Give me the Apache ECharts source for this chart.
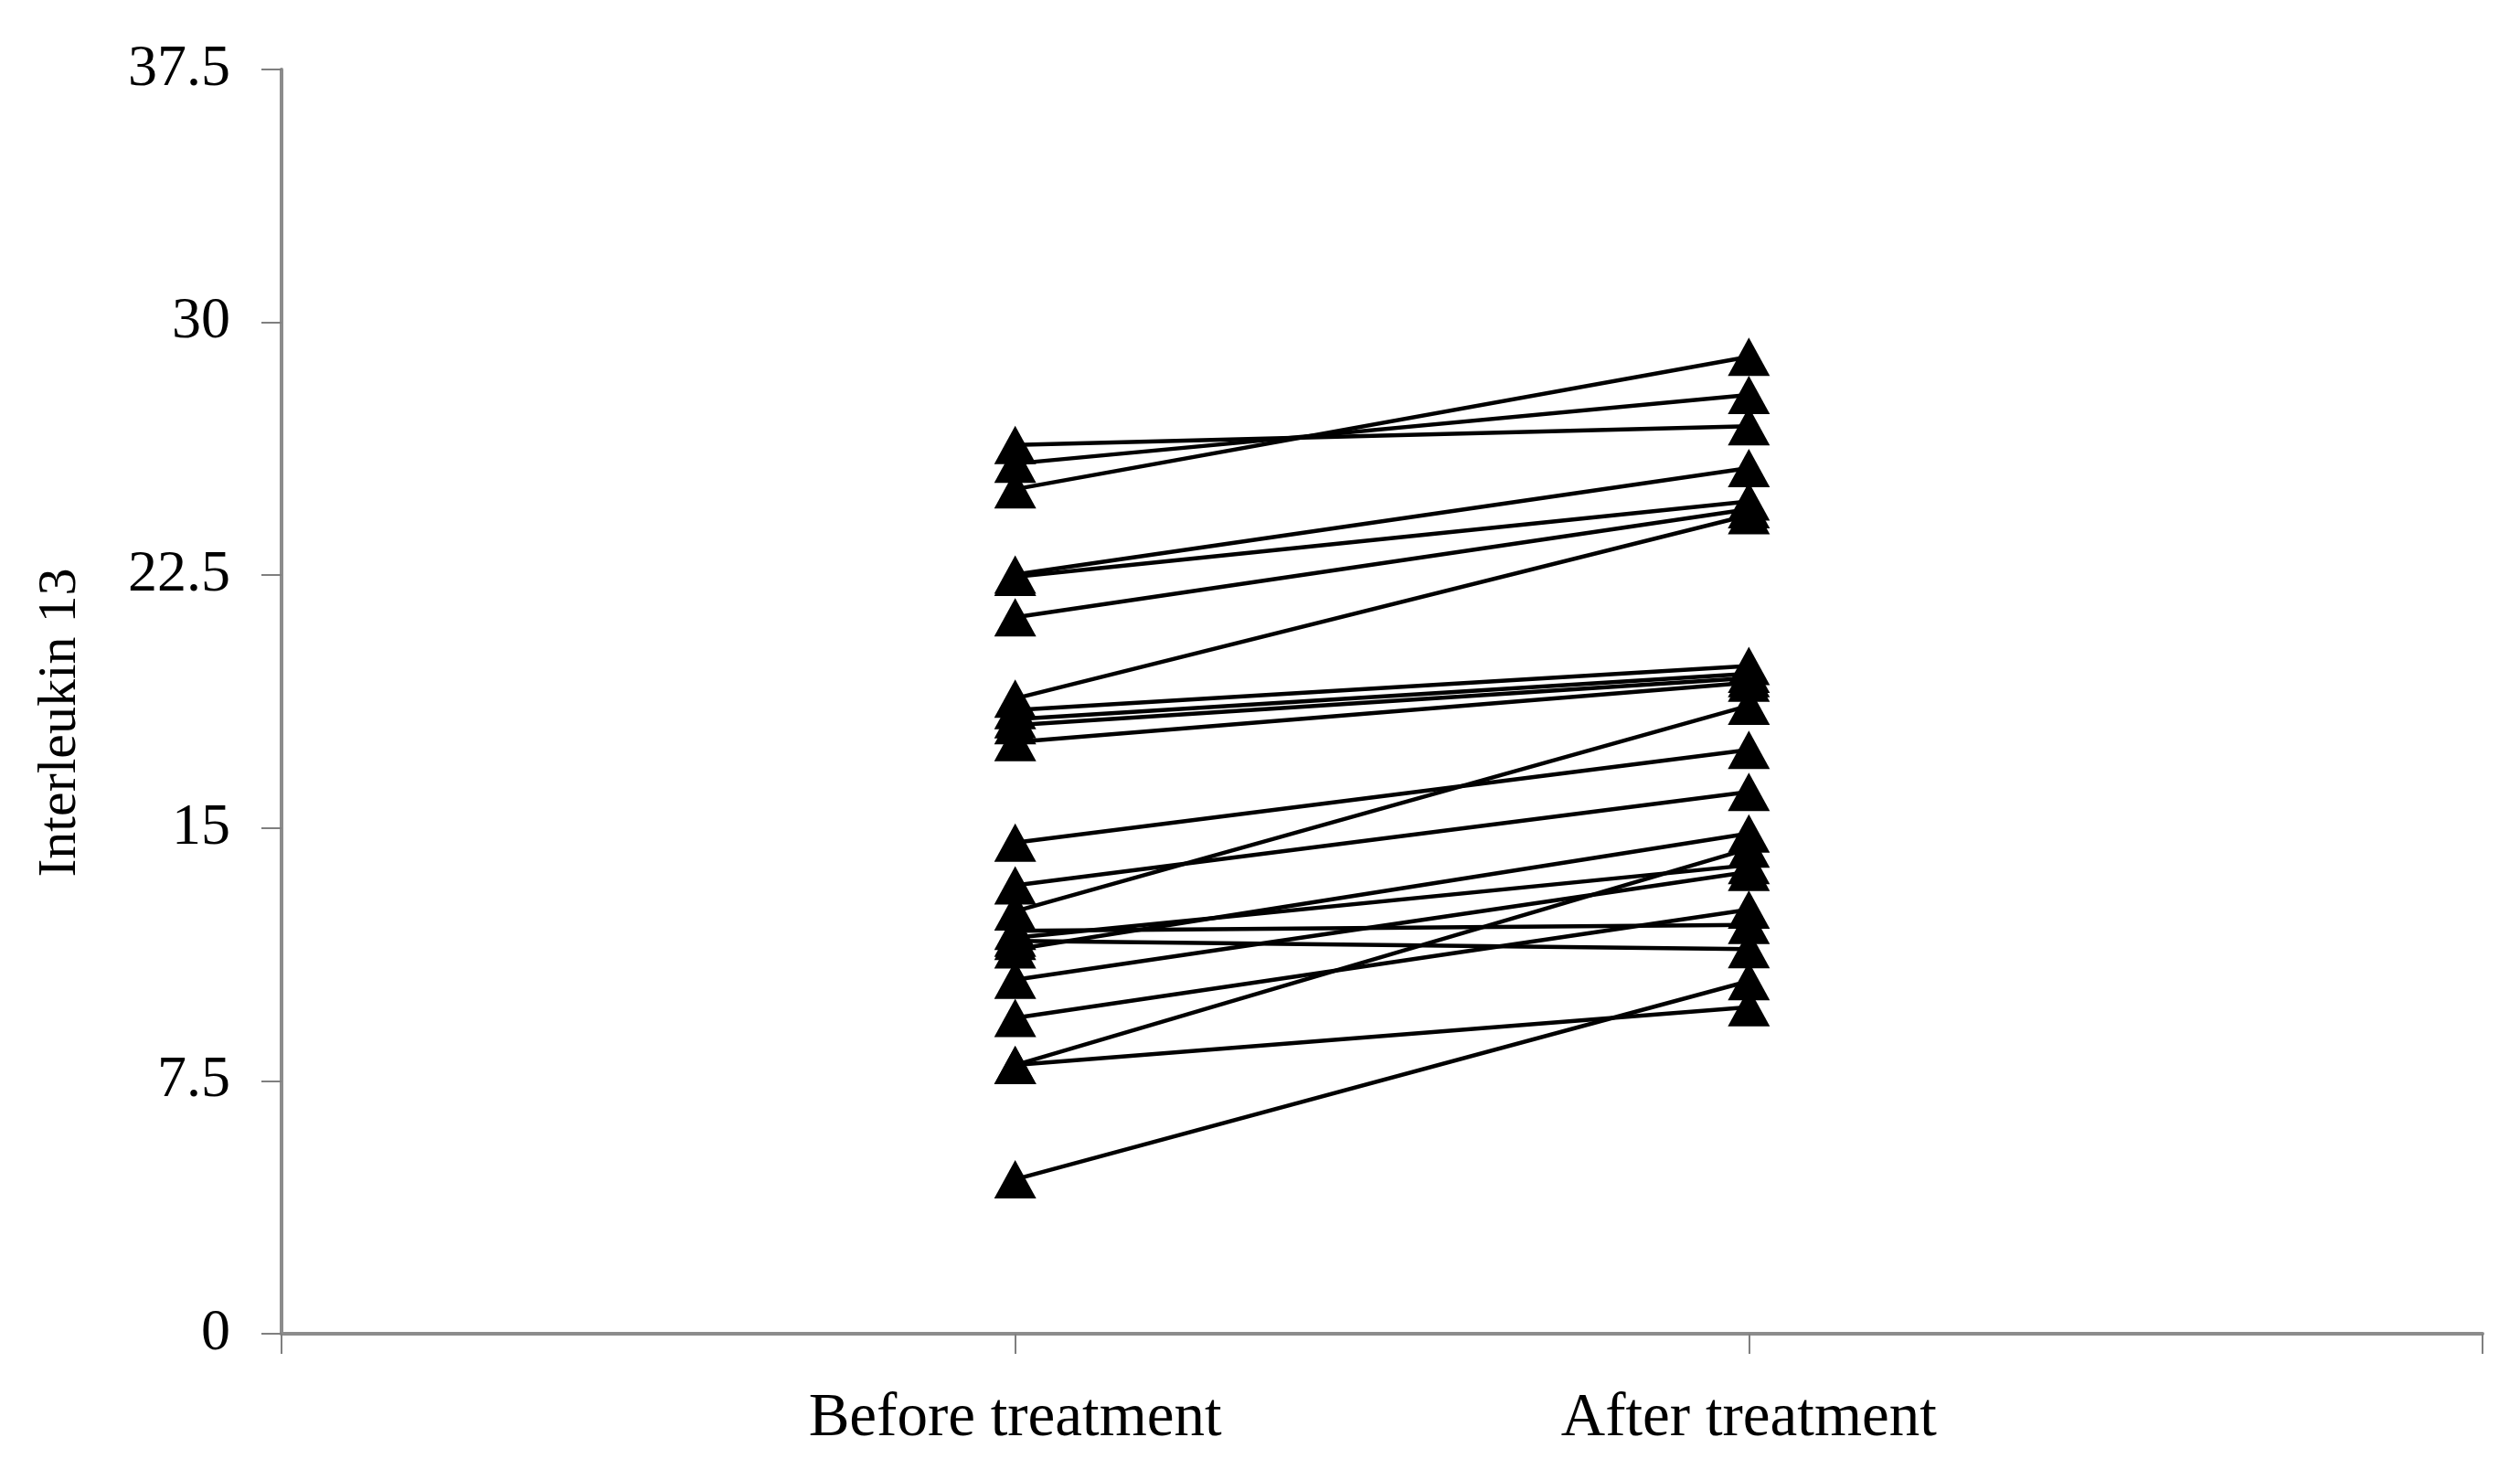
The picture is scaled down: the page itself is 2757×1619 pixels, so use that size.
<!DOCTYPE html>
<html>
<head>
<meta charset="utf-8">
<script src="https://cdn.jsdelivr.net/npm/echarts@6/dist/echarts.min.js"></script>
<style>
html,body{margin:0;padding:0;background:#fff;}
#chart{width:2757px;height:1619px;}
</style>
</head>
<body>
<div id="chart"></div>
<script>
// Categories on the x axis (outer blanks give the empty end ticks)
const categories = ['', 'Before treatment', 'After treatment', ''];
// Paired values per subject
const beforeValues = [26.36, 25.81, 25.05, 22.52, 22.45, 21.25, 18.84, 18.50, 18.23, 18.05, 17.55,
                      14.57, 13.30, 12.53, 11.95, 11.75, 11.65, 11.40, 10.50, 9.37, 7.97, 7.97, 4.58];
const afterValues  = [26.92, 27.85, 28.98, 25.68, 24.69, 24.46, 24.28, 19.81, 19.58, 19.45, 19.31,
                      17.32, 16.07, 18.63, 12.13, 13.90, 11.41, 14.84, 13.70, 12.58, 14.39, 9.69, 10.46];
const yAxisName = 'Interleukin 13';
const yMin = 0, yMax = 37.5, yInterval = 7.5;

const series = beforeValues.map((b, i) => ({
  type: 'line',
  data: [null, b, afterValues[i], null],
  symbol: 'triangle',
  symbolSize: [46, 42],
  showSymbol: true,
  itemStyle: { color: '#000' },
  lineStyle: { color: '#000', width: 4.5 },
  emphasis: { disabled: true },
  animation: false
}));

const chart = echarts.init(document.getElementById('chart'), null, { renderer: 'canvas' });
chart.setOption({
  backgroundColor: '#fff',
  animation: false,
  grid: { left: 308, right: 41, top: 76, bottom: 160, containLabel: false },
  xAxis: {
    type: 'category',
    data: categories,
    boundaryGap: false,
    axisLine: { lineStyle: { color: '#8c8c8c', width: 4 } },
    axisTick: { show: true, interval: 0, length: 22, lineStyle: { color: '#7f7f7f', width: 2 } },
    axisLabel: { interval: 0, margin: 60, fontFamily: 'Liberation Serif', fontSize: 67, color: '#000' },
    splitLine: { show: false }
  },
  yAxis: {
    type: 'value',
    min: yMin, max: yMax, interval: yInterval,
    name: yAxisName,
    nameLocation: 'middle',
    nameGap: 212,
    nameRotate: 90,
    nameTextStyle: { fontFamily: 'Liberation Serif', fontSize: 60, color: '#000', padding: [0, 46, 0, 0] },
    axisLine: { show: true, lineStyle: { color: '#8c8c8c', width: 4 } },
    axisTick: { show: true, length: 22, lineStyle: { color: '#7f7f7f', width: 2 } },
    axisLabel: { margin: 56, fontFamily: 'Liberation Serif', fontSize: 64, color: '#000' },
    splitLine: { show: false }
  },
  series: series
});
</script>
</body>
</html>
